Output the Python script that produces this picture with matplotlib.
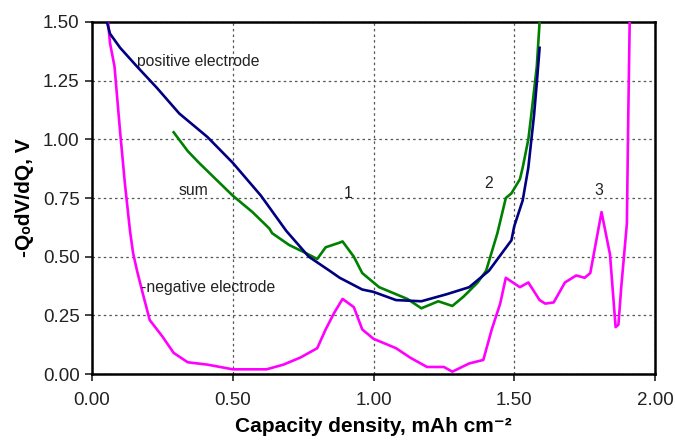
import matplotlib
matplotlib.use("Agg")
import matplotlib.pyplot as plt

plt.rcParams['font.family'] = ['Liberation Sans', 'DejaVu Sans']

pos_x = [0.053, 0.064, 0.10, 0.16, 0.23, 0.31, 0.41, 0.50, 0.60, 0.69, 0.77, 0.844, 0.88, 0.96, 1.00,
         1.08, 1.17, 1.26, 1.34, 1.41, 1.49, 1.50, 1.53, 1.55, 1.57, 1.58, 1.59]
pos_y = [1.50, 1.45, 1.39, 1.31, 1.22, 1.11, 1.01, 0.90, 0.76, 0.61, 0.50, 0.44, 0.41, 0.36, 0.35,
         0.315, 0.31, 0.34, 0.37, 0.44, 0.57, 0.63, 0.74, 0.88, 1.10, 1.24, 1.39]

sum_x = [0.29, 0.34, 0.38, 0.44, 0.50, 0.57, 0.63, 0.64, 0.70, 0.76, 0.80, 0.83, 0.88, 0.89, 0.93,
         0.96, 1.02, 1.08, 1.12, 1.17, 1.23, 1.28, 1.32, 1.37, 1.40, 1.44, 1.47, 1.49, 1.52, 1.53,
         1.55, 1.56, 1.58, 1.59]
sum_y = [1.03, 0.95, 0.90, 0.83, 0.76, 0.69, 0.62, 0.60, 0.55, 0.515, 0.49, 0.54, 0.56, 0.565, 0.50,
         0.43, 0.37, 0.34, 0.32, 0.28, 0.31, 0.29, 0.33, 0.39, 0.44, 0.60, 0.75, 0.77, 0.83, 0.88,
         1.00, 1.10, 1.31, 1.50]

neg_x = [0.057, 0.064, 0.08, 0.10, 0.117, 0.135, 0.146, 0.16, 0.18, 0.205, 0.25, 0.29, 0.34, 0.41,
         0.50, 0.62, 0.68, 0.74, 0.80, 0.83, 0.86, 0.89, 0.93, 0.96, 1.00, 1.08, 1.13, 1.19, 1.25,
         1.28, 1.34, 1.39, 1.42, 1.45, 1.47, 1.52, 1.55, 1.59, 1.61, 1.64, 1.68, 1.72, 1.75, 1.77,
         1.79, 1.81, 1.84, 1.86, 1.87, 1.88, 1.90, 1.905, 1.91]
neg_y = [1.50, 1.41, 1.31, 1.03, 0.81, 0.61, 0.515, 0.44, 0.345, 0.23, 0.16, 0.09, 0.05, 0.04,
         0.02, 0.02, 0.04, 0.07, 0.11, 0.19, 0.26, 0.32, 0.285, 0.19, 0.15, 0.11, 0.07, 0.03, 0.03,
         0.01, 0.045, 0.06, 0.19, 0.30, 0.41, 0.37, 0.39, 0.315, 0.30, 0.305, 0.39, 0.42, 0.41, 0.43,
         0.56, 0.69, 0.51, 0.20, 0.21, 0.37, 0.64, 1.10, 1.50]

x_ticks = [0.0, 0.5, 1.0, 1.5, 2.0]
y_ticks = [0.0, 0.25, 0.5, 0.75, 1.0, 1.25, 1.5]

fig = plt.figure(figsize=(6.75, 4.46), dpi=100)
ax = fig.add_axes([0.1363, 0.1614, 0.8341, 0.7893])

ax.plot(neg_x, neg_y, color='#FF00FF', lw=1.9, zorder=3)
ax.plot(sum_x, sum_y, color='#008000', lw=1.9, zorder=4)
ax.plot(pos_x, pos_y, color='#000080', lw=1.9, zorder=5)

ax.set_xlim(0, 2.0)
ax.set_ylim(0, 1.5)
ax.set_xticks(x_ticks)
ax.set_yticks(y_ticks)
ax.set_xticklabels([f"{v:.2f}" for v in x_ticks])
ax.set_yticklabels([f"{v:.2f}" for v in y_ticks])
ax.tick_params(labelsize=13.5, direction='out', length=5, width=1.2, colors='#222222')
ax.tick_params(axis='x', pad=8)
ax.tick_params(axis='y', pad=4)
ax.grid(True, color='#555555', linestyle=(0, (2, 2.5)), linewidth=0.9)
for s in ax.spines.values():
    s.set_linewidth(1.8)
    s.set_color('black')

ax.set_xlabel("Capacity density, mAh cm\u207b\u00b2", fontsize=15, fontweight='bold', labelpad=6)
ax.set_ylabel("-Q\u2092dV/dQ, V", fontsize=15, fontweight='bold', labelpad=6)

fs = 11.3
ax.text(0.16, 1.33, "positive electrode", fontsize=fs, va='center', ha='left', color='#222222')
ax.text(0.36, 0.78, "sum", fontsize=fs, va='center', ha='center', color='#222222')
ax.text(0.91, 0.77, "1", fontsize=fs, va='center', ha='center', color='#222222')
ax.text(1.41, 0.81, "2", fontsize=fs, va='center', ha='center', color='#222222')
ax.text(1.80, 0.78, "3", fontsize=fs, va='center', ha='center', color='#222222')
ax.text(0.175, 0.37, "-negative electrode", fontsize=fs, va='center', ha='left', color='#222222')

fig.savefig("out.png", dpi=100)
